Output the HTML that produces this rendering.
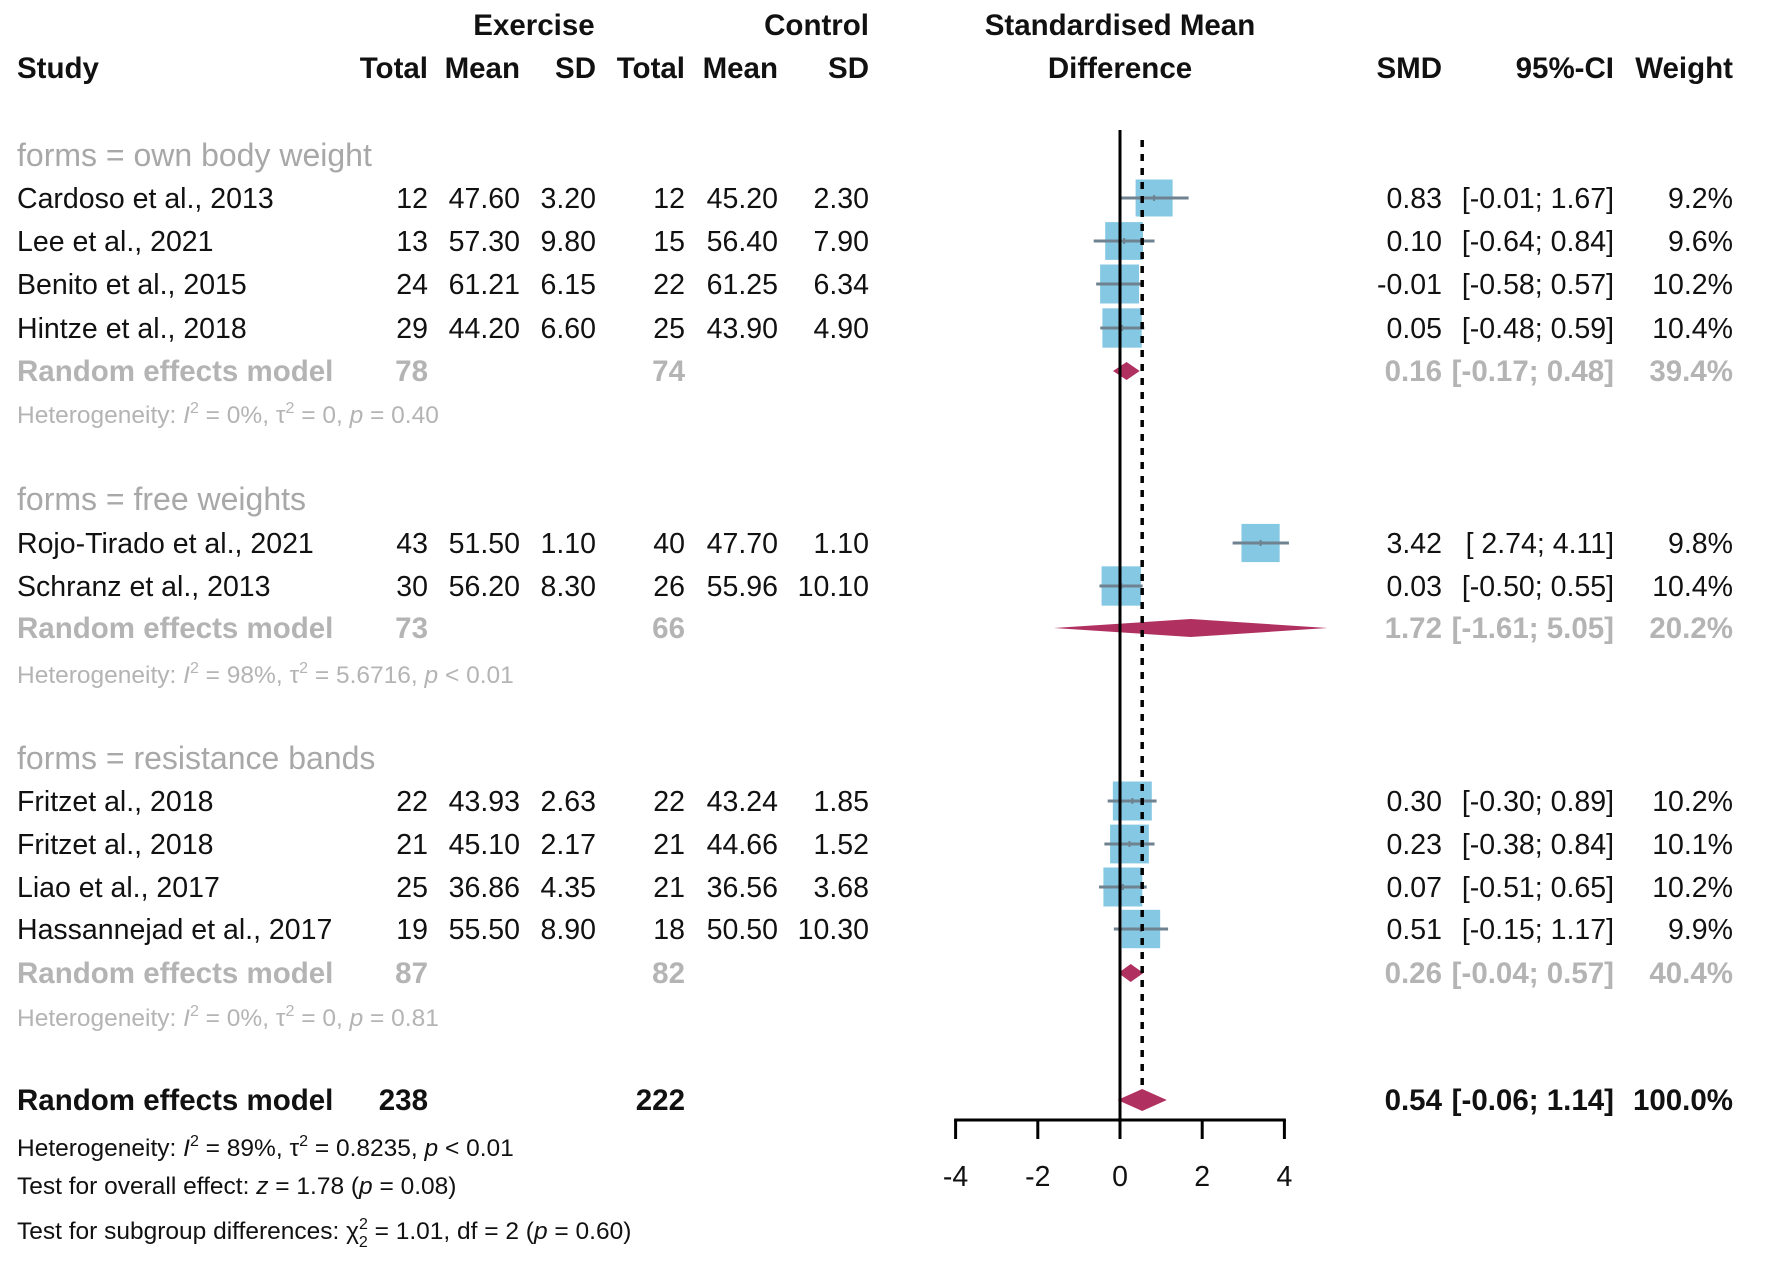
<!DOCTYPE html>
<html><head><meta charset="utf-8"><style>
html,body{margin:0;padding:0;background:#fff;}
svg text{font-family:"Liberation Sans",Arial,sans-serif;}
</style></head><body>
<svg id="plot" width="1772" height="1272" viewBox="0 0 1772 1272" xmlns="http://www.w3.org/2000/svg">
<g id="hdr" font-weight="bold" font-size="29.5" fill="#111">
<text x="534" y="35" text-anchor="middle">Exercise</text>
<text x="869" y="35" text-anchor="end">Control</text>
<text x="1120" y="35" text-anchor="middle">Standardised Mean</text>
<text x="17" y="78">Study</text>
<text x="428" y="78" text-anchor="end">Total</text>
<text x="520" y="78" text-anchor="end">Mean</text>
<text x="596" y="78" text-anchor="end">SD</text>
<text x="685" y="78" text-anchor="end">Total</text>
<text x="778" y="78" text-anchor="end">Mean</text>
<text x="869" y="78" text-anchor="end">SD</text>
<text x="1120" y="78" text-anchor="middle">Difference</text>
<text x="1442" y="78" text-anchor="end">SMD</text>
<text x="1614" y="78" text-anchor="end">95%-CI</text>
<text x="1733" y="78" text-anchor="end">Weight</text>
</g>
<g id="rows"></g>
<g id="marks"></g>
<g id="axis"></g>
</svg>
<script>
const studies=["Cardoso et al., 2013","Lee et al., 2021","Benito et al., 2015","Hintze et al., 2018","Rojo-Tirado et al., 2021","Schranz et al., 2013","Fritzet al., 2018","Fritzet al., 2018","Liao et al., 2017","Hassannejad et al., 2017"];
const exTotal=[12,13,24,29,43,30,22,21,25,19];
const exMean=["47.60","57.30","61.21","44.20","51.50","56.20","43.93","45.10","36.86","55.50"];
const exSD=["3.20","9.80","6.15","6.60","1.10","8.30","2.63","2.17","4.35","8.90"];
const ctTotal=[12,15,22,25,40,26,22,21,21,18];
const ctMean=["45.20","56.40","61.25","43.90","47.70","55.96","43.24","44.66","36.56","50.50"];
const ctSD=["2.30","7.90","6.34","4.90","1.10","10.10","1.85","1.52","3.68","10.30"];
const smd=[0.83,0.10,-0.01,0.05,3.42,0.03,0.30,0.23,0.07,0.51];
const ciLo=[-0.01,-0.64,-0.58,-0.48,2.74,-0.50,-0.30,-0.38,-0.51,-0.15];
const ciHi=[1.67,0.84,0.57,0.59,4.11,0.55,0.89,0.84,0.65,1.17];
const weight=[9.2,9.6,10.2,10.4,9.8,10.4,10.2,10.1,10.2,9.9];
const groups=["forms = own body weight","forms = free weights","forms = resistance bands"];
const reEx=[78,73,87];
const reCt=[74,66,82];
const reSmd=[0.16,1.72,0.26];
const reLo=[-0.17,-1.61,-0.04];
const reHi=[0.48,5.05,0.57];
const reW=[39.4,20.2,40.4];
const hetI2=["0%","98%","0%"];
const hetTau=["0","5.6716","0"];
const hetP=["= 0.40","< 0.01","= 0.81"];
const overall={ex:238,ct:222,smd:0.54,lo:-0.06,hi:1.14,w:"100.0%"};
const ticks=[-4,-2,0,2,4];

const NS="http://www.w3.org/2000/svg";
const X0=1120, U=41.1;
const xs=v=>X0+v*U;
function el(tag,attrs,parent,txt){const e=document.createElementNS(NS,tag);for(const k in attrs)e.setAttribute(k,attrs[k]);if(txt!==undefined)e.textContent=txt;parent.appendChild(e);return e;}
const rows=document.getElementById('rows'), marks=document.getElementById('marks'), axis=document.getElementById('axis');
const f=v=>(v<0?"-":"")+Math.abs(v).toFixed(2);
const ci=(a,b)=>"["+(a<0?"-":" ")+Math.abs(a).toFixed(2)+"; "+b.toFixed(2)+"]";

const groupY=[155,499,758];
const studyY=[198,241,284,328,543,586,801,844,887,929];
const reY=[371,628,973];
const hetY=[415,675,1018];
const TY=10;
const FS=28.5, FB=29.5, FH=24.5, FG=32;

function num(x,y,t,fill,bold,name){const e=el('text',{x:x,y:y+TY,'text-anchor':'end','font-size':bold?FB:FS,fill:fill,'font-weight':bold?'bold':'normal'},rows,t);

return e;}

groups.forEach((g,i)=>{
 const t=el('text',{x:17,y:groupY[i]+TY+1,'font-size':FG,fill:'#a8a8a8'},rows,g);
 
 
});
studies.forEach((s,i)=>{
 const y=studyY[i];
 const t=el('text',{x:17,y:y+TY,'font-size':FS,fill:'#111'},rows,s);
 
 
 num(428,y,exTotal[i],'#111',0,'exercise-total');
 num(520,y,exMean[i],'#111',0,'exercise-mean');
 num(596,y,exSD[i],'#111',0,'exercise-sd');
 num(685,y,ctTotal[i],'#111',0,'control-total');
 num(778,y,ctMean[i],'#111',0,'control-mean');
 num(869,y,ctSD[i],'#111',0,'control-sd');
 num(1442,y,f(smd[i]),'#111',0,'smd-value');
 num(1614,y,ci(ciLo[i],ciHi[i]),'#111',0,'ci-value');
 num(1733,y,weight[i].toFixed(1)+"%",'#111',0,'weight-value');
 const s2=12.2*Math.sqrt(weight[i]);
 const r=el('rect',{x:xs(smd[i])-s2/2,y:y-s2/2,width:s2,height:s2,fill:'#85c8e3'},marks);
 
 
 const l=el('line',{x1:xs(ciLo[i]),x2:xs(ciHi[i]),y1:y,y2:y,stroke:'#6f8290','stroke-width':3},marks);
 
 
 const d=el('line',{x1:xs(smd[i]),x2:xs(smd[i]),y1:y-3,y2:y+3,stroke:'#6f8290','stroke-width':2},marks);
 
 
});
reY.forEach((y,i)=>{
 const t=el('text',{x:17,y:y+TY,'font-size':FB,'font-weight':'bold',fill:'#b4b4b4'},rows,'Random effects model');
 
 
 num(428,y,reEx[i],'#b4b4b4',1,'subgroup-exercise-total');
 num(685,y,reCt[i],'#b4b4b4',1,'subgroup-control-total');
 num(1442,y,f(reSmd[i]),'#b4b4b4',1,'subgroup-smd');
 num(1614,y,ci(reLo[i],reHi[i]),'#b4b4b4',1,'subgroup-ci');
 num(1733,y,reW[i].toFixed(1)+"%",'#b4b4b4',1,'subgroup-weight');
 const h=9;
 const p=el('polygon',{points:`${xs(reLo[i])},${y} ${xs(reSmd[i])},${y-h} ${xs(reHi[i])},${y} ${xs(reSmd[i])},${y+h}`,fill:'#b03060'},marks);
 
 
 const ht=el('text',{x:17,y:hetY[i]+8,'font-size':FH,fill:'#b4b4b4'},rows);
 
 
 ht.innerHTML=`Heterogeneity: <tspan font-style="italic">I</tspan><tspan dy="-10" font-size="16">2</tspan><tspan dy="10"> = ${hetI2[i]}, τ</tspan><tspan dy="-10" font-size="16">2</tspan><tspan dy="10"> = ${hetTau[i]}, </tspan><tspan font-style="italic">p</tspan> ${hetP[i]}`;
});
{
 const y=1100;
 const t=el('text',{x:17,y:y+TY,'font-size':FB,'font-weight':'bold',fill:'#111'},rows,'Random effects model');
 
 
 num(428,y,overall.ex,'#111',1,'overall-exercise-total');
 num(685,y,overall.ct,'#111',1,'overall-control-total');
 num(1442,y,f(overall.smd),'#111',1,'overall-smd');
 num(1614,y,ci(overall.lo,overall.hi),'#111',1,'overall-ci');
 num(1733,y,overall.w,'#111',1,'overall-weight');
 const h=11;
 const p=el('polygon',{points:`${xs(overall.lo)},${y} ${xs(overall.smd)},${y-h} ${xs(overall.hi)},${y} ${xs(overall.smd)},${y+h}`,fill:'#b03060'},marks);
 
 
 const lines=[
  ['overall-heterogeneity',1148,'Heterogeneity: <tspan font-style="italic">I</tspan><tspan dy="-10" font-size="16">2</tspan><tspan dy="10"> = 89%, τ</tspan><tspan dy="-10" font-size="16">2</tspan><tspan dy="10"> = 0.8235, </tspan><tspan font-style="italic">p</tspan> &lt; 0.01'],
  ['overall-effect-test',1186,'Test for overall effect: <tspan font-style="italic">z</tspan> = 1.78 (<tspan font-style="italic">p</tspan> = 0.08)'],
  ['subgroup-difference-test',1231,'Test for subgroup differences: χ<tspan dy="-10" font-size="16">2</tspan><tspan dy="18" dx="-9" font-size="16">2</tspan><tspan dy="-8"> = 1.01, df = 2 (</tspan><tspan font-style="italic">p</tspan> = 0.60)']];
 lines.forEach(L=>{const e=el('text',{x:17,y:L[1]+8,'font-size':FH,fill:'#111'},rows);
  
  
  e.innerHTML=L[2];});
}
const zl=el('line',{x1:xs(0),x2:xs(0),y1:130,y2:1120,stroke:'#000','stroke-width':3},axis);


const dl=el('line',{x1:xs(overall.smd),x2:xs(overall.smd),y1:140,y2:1090,stroke:'#000','stroke-width':3.5,'stroke-dasharray':'7 7'},axis);


const ax=el('line',{x1:xs(ticks[0])-1.5,x2:xs(ticks[ticks.length-1])+1.5,y1:1120,y2:1120,stroke:'#000','stroke-width':3},axis);


ticks.forEach(t=>{
 const tk=el('line',{x1:xs(t),x2:xs(t),y1:1120,y2:1139,stroke:'#000','stroke-width':3},axis);
 
 
 const tl=el('text',{x:xs(t),y:1186,'text-anchor':'middle','font-size':FS,fill:'#111'},axis,String(t));
 
 
});
</script>
</body></html>
